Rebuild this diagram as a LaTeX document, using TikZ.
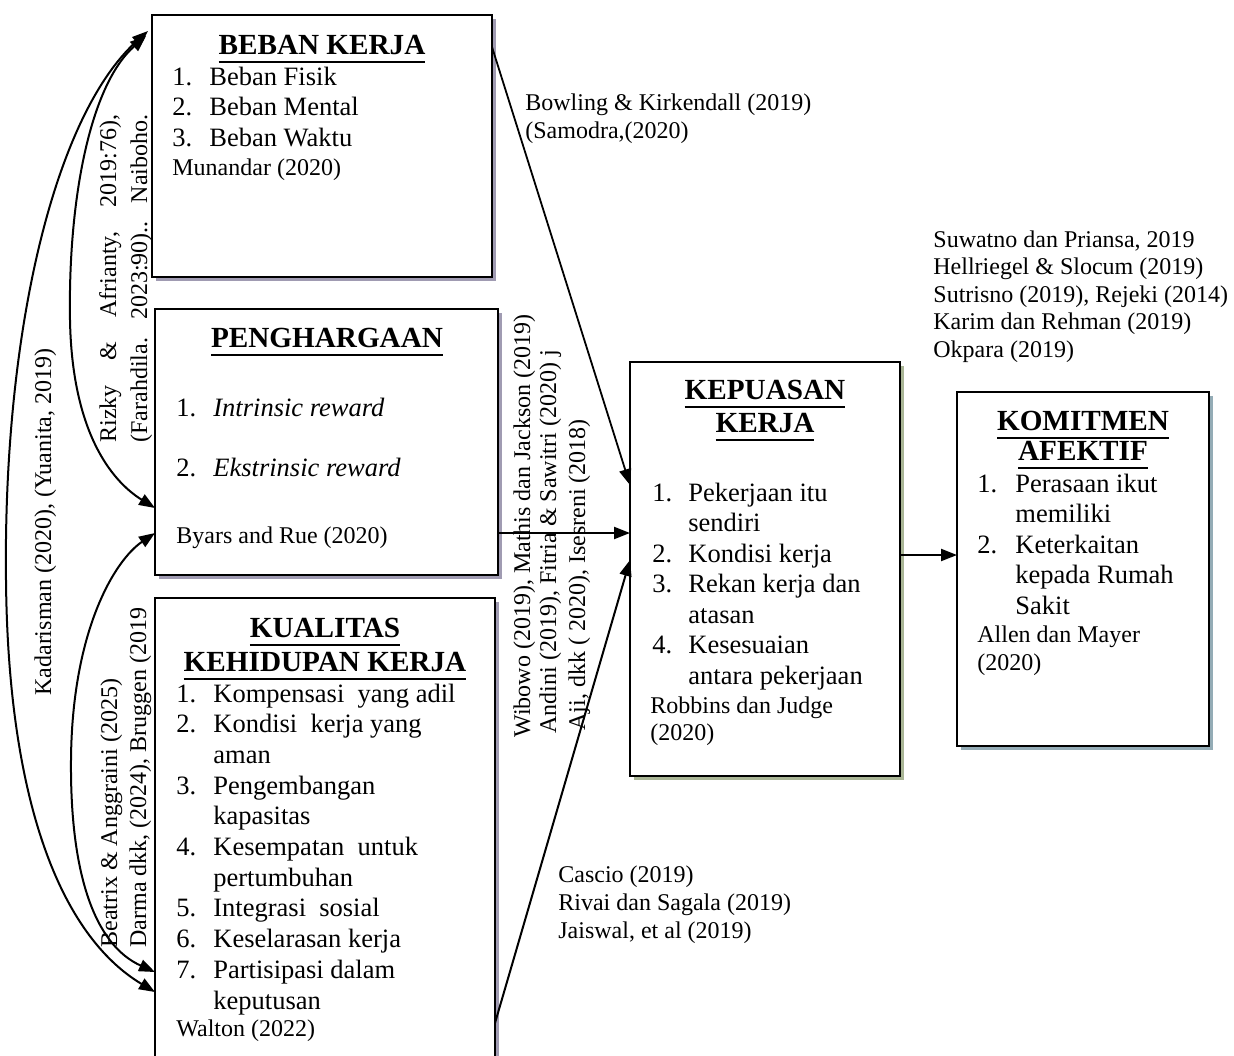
\documentclass[tikz,border=0pt]{standalone}
\usepackage{fontspec}
\setmainfont{Liberation Serif}
\usetikzlibrary{arrows.meta,calc,shadows}
\definecolor{shA}{RGB}{160,155,178}
\definecolor{shB}{RGB}{170,182,150}
\definecolor{shC}{RGB}{148,172,182}
\newcommand{\hdul}[1]{\setbox0\hbox{#1}\leavevmode\rlap{\vrule height -3pt depth 4pt width \wd0}\box0}
\newcommand{\nr}[2][18.5pt]{\makebox[#1][l]{#2}}
\newcommand{\contl}[1][18.5pt]{\hspace*{#1}}
\begin{document}
\begin{tikzpicture}[x=0.5pt,y=-0.5pt,
  box/.style={draw=black, line width=0.75pt, fill=white, inner sep=0pt, outer sep=0pt},
  shd/.style={drop shadow={opacity=1, fill=#1, shadow xshift=2pt, shadow yshift=-2pt}},
  ttl/.style={inner sep=0pt, anchor=base, font=\fontsize{14.6}{16.5}\selectfont\bfseries},
  itm/.style={inner sep=0pt, anchor=base west, font=\fontsize{13.25}{15.25}\selectfont},
  cit/.style={inner sep=0pt, anchor=base west, font=\fontsize{12}{14}\selectfont},
  rot/.style={inner sep=0pt, rotate=90, font=\fontsize{12}{14}\selectfont},
  arr/.style={line width=1pt, -{Triangle[length=8pt,width=6pt]}},
  darr/.style={line width=1pt, {Triangle[length=8pt,width=6pt]}-{Triangle[length=8pt,width=6pt]}}]
\clip (0,0) rectangle (1234,1055);
\fill[white] (0,0) rectangle (1234,1055);

% boxes
\node[box, shd=shA, minimum width=170pt, minimum height=131pt] (bk) at (322,146) {};
\node[box, shd=shA, minimum width=171.5pt, minimum height=133pt] (pg) at (326.5,442) {};
\node[box, shd=shA, minimum width=170pt, minimum height=256pt] (kq) at (325,854) {};
\node[box, shd=shB, minimum width=135pt, minimum height=207pt] (kp) at (765,569) {};
\node[box, shd=shC, minimum width=126pt, minimum height=177pt] (km) at (1083,569) {};

% BEBAN KERJA
\node[ttl] (bkT) at (322,54.5) {\hdul{BEBAN KERJA}};
\node[itm] (bkL) at (172,85) {\begin{tabular}[t]{@{}l@{}}\nr{1.}Beban Fisik\\ \nr{2.}Beban Mental\\ \nr{3.}Beban Waktu\end{tabular}};
\node[cit] (bkC) at (172,175) {Munandar (2020)};

% PENGHARGAAN
\node[ttl] (pgT) at (327,347.5) {\hdul{PENGHARGAAN}};
\node[itm, font=\fontsize{13.25}{30}\selectfont] (pgL) at (176,416) {\begin{tabular}[t]{@{}l@{}}\nr{1.}\textit{Intrinsic reward}\\ \nr{2.}\textit{Ekstrinsic reward}\end{tabular}};
\node[cit] (pgC) at (176,543) {Byars and Rue (2020)};

% KUALITAS KEHIDUPAN KERJA
\node[ttl, font=\fontsize{14.6}{17}\selectfont\bfseries] (kqT) at (325,637.5) {\begin{tabular}[t]{@{}c@{}}\hdul{KUALITAS}\\ \hdul{KEHIDUPAN KERJA}\end{tabular}};
\node[itm, font=\fontsize{13.25}{15.35}\selectfont] (kqL) at (176,702) {\begin{tabular}[t]{@{}l@{}}\nr{1.}Kompensasi\ \ yang adil\\ \nr{2.}Kondisi\ \ kerja yang\\ \contl aman\\ \nr{3.}Pengembangan\\ \contl kapasitas\\ \nr{4.}Kesempatan\ \ untuk\\ \contl pertumbuhan\\ \nr{5.}Integrasi\ \ sosial\\ \nr{6.}Keselarasan kerja\\ \nr{7.}Partisipasi dalam\\ \contl keputusan\end{tabular}};
\node[cit] (kqC) at (176,1036) {Walton (2022)};

% KEPUASAN KERJA
\node[ttl] (kpT) at (765,399.5) {\begin{tabular}[t]{@{}c@{}}\hdul{KEPUASAN}\\ \hdul{KERJA}\end{tabular}};
\node[itm] (kpL) at (652,501) {\begin{tabular}[t]{@{}l@{}}\nr[18pt]{1.}Pekerjaan itu\\ \contl[18pt]sendiri\\ \nr[18pt]{2.}Kondisi kerja\\ \nr[18pt]{3.}Rekan kerja dan\\ \contl[18pt]atasan\\ \nr[18pt]{4.}Kesesuaian\\ \contl[18pt]antara pekerjaan\end{tabular}};
\node[cit, font=\fontsize{12}{13.5}\selectfont] (kpC) at (650,713) {\begin{tabular}[t]{@{}l@{}}Robbins dan Judge\\ (2020)\end{tabular}};

% KOMITMEN AFEKTIF
\node[ttl, font=\fontsize{14.6}{15}\selectfont\bfseries] (kmT) at (1083,430.5) {\begin{tabular}[t]{@{}c@{}}\hdul{KOMITMEN}\\ \hdul{AFEKTIF}\end{tabular}};
\node[itm] (kmL) at (977,492) {\begin{tabular}[t]{@{}l@{}}\nr[19pt]{1.}Perasaan ikut\\ \contl[19pt]memiliki\\ \nr[19pt]{2.}Keterkaitan\\ \contl[19pt]kepada Rumah\\ \contl[19pt]Sakit\end{tabular}};
\node[cit] (kmC) at (977,642) {\begin{tabular}[t]{@{}l@{}}Allen dan Mayer\\ (2020)\end{tabular}};

% free labels
\node[cit] (lbBow) at (525,110) {\begin{tabular}[t]{@{}l@{}}Bowling \& Kirkendall (2019)\\ (Samodra,(2020)\end{tabular}};
\node[cit, font=\fontsize{12}{13.75}\selectfont] (lbSuw) at (933,247) {\begin{tabular}[t]{@{}l@{}}Suwatno dan Priansa, 2019\\ Hellriegel \& Slocum (2019)\\ Sutrisno (2019), Rejeki (2014)\\ Karim dan Rehman (2019)\\ Okpara (2019)\end{tabular}};
\node[cit] (lbCas) at (558,882) {\begin{tabular}[t]{@{}l@{}}Cascio (2019)\\ Rivai dan Sagala (2019)\\ Jaiswal, et al (2019)\end{tabular}};

% rotated labels
\node[rot, anchor=base] (lbKad) at (51,522) {Kadarisman (2020), (Yuanita, 2019)};
\node[rot, anchor=base west] (lbRz1) at (116,443) {\makebox[164pt]{Rizky\hfill\&\hfill Afrianty,\hfill 2019:76),}};
\node[rot, anchor=base west] (lbRz2) at (147,443) {\makebox[164pt]{(Farahdila.\hfill 2023:90)..\hfill Naiboho.}};
\node[rot, anchor=base west] (lbBe1) at (117,948) {Beatrix \& Anggraini (2025)};
\node[rot, anchor=base west] (lbBe2) at (146,948) {Darma dkk, (2024), Bruggen (2019};
\node[rot, anchor=base west] (lbMd1) at (530,738) {Wibowo (2019), Mathis dan Jackson (2019)};
\node[rot, anchor=base west] (lbMd2) at (556,734) {Andini (2019), Fitria \& Sawitri (2020) j};
\node[rot, anchor=base west] (lbMd3) at (585,731) {Aji, dkk ( 2020), Isesreni (2018)};

% straight connectors
\draw[arr, line width=0.9pt] ($(bk.north east)+(0,32)$) -- ($(kp.north west)+(0,123)$);
\draw[arr, line width=1.1pt] ($(pg.north west)+(343,224)$) -- ($(kp.north west)+(0,171)$);
\draw[arr, line width=1pt] ($(kq.north east)+(0,425)$) -- ($(kp.north west)+(0,198)$);
\draw[arr, line width=1.1pt] ($(kp.north east)+(0,193)$) -- ($(km.north west)+(0,163)$);

% curved connectors on the left
\draw[darr] ($(bk.north west)+(-4,16)$) .. controls (55,115) and (3,330) .. (6,580) .. controls (8,800) and (60,935) .. ($(kq.north west)+(0,394)$);
\draw[darr] ($(bk.north west)+(-6,21)$) .. controls (90,85) and (68,200) .. (70,320) .. controls (72,430) and (110,480) .. ($(pg.north west)+(0,199)$);
\draw[darr] ($(pg.north west)+(0,224)$) .. controls (115,560) and (72,630) .. (71,760) .. controls (70,875) and (95,945) .. ($(kq.north west)+(0,374)$);
\end{tikzpicture}
\end{document}
